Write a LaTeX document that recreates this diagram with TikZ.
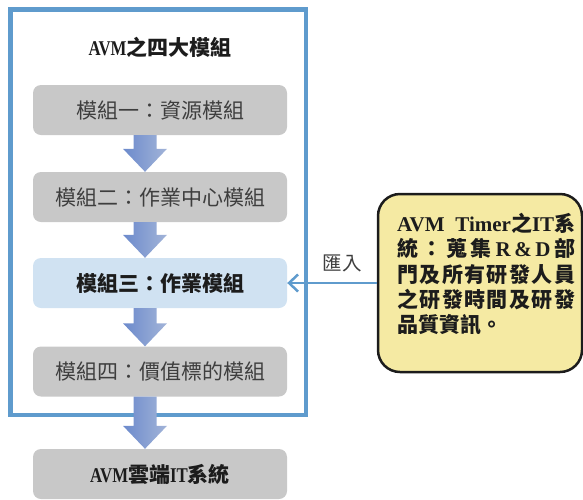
\documentclass[tikz,border=0pt]{standalone}
\usepackage{fontspec}
\setmainfont{Noto Sans CJK TC}
\newfontfamily\lat{Liberation Serif}[FakeStretch=0.8]
\newfontfamily\latw{Liberation Serif}
\usetikzlibrary{arrows.meta,calc}

\definecolor{frameblue}{RGB}{95,155,205}
\definecolor{boxgray}{RGB}{200,200,200}
\definecolor{boxblue}{RGB}{208,226,242}
\definecolor{noteyellow}{RGB}{245,234,163}
\definecolor{arrowleft}{RGB}{108,138,204}
\definecolor{arrowright}{RGB}{162,180,216}
\definecolor{txtgray}{RGB}{62,62,62}
\definecolor{txtdark}{RGB}{28,28,28}

\tikzset{
  module/.style={rounded corners=8pt, minimum width=254pt, minimum height=50pt,
    inner sep=0pt, font=\fontsize{21}{25}\selectfont},
  plainmod/.style={module, fill=boxgray, text=txtgray},
  keymod/.style={module, fill=boxblue, text=txtdark, font=\fontsize{21}{25}\selectfont\bfseries},
  outmod/.style={module, fill=boxgray, text=txtdark, font=\fontsize{21}{25}\selectfont\bfseries},
  frame/.style={draw=frameblue, line width=4.5pt, minimum width=295.5pt, minimum height=405.5pt, inner sep=0pt},
  note/.style={draw=txtdark, fill=noteyellow, line width=2.5pt, rounded corners=22pt,
    minimum width=204pt, minimum height=178pt, inner sep=0pt},
  feed/.style={draw=frameblue, line width=2.5pt, -{Straight Barb[length=9pt,width=17pt]}},
}

% block arrow between two stacked modules, centred on x = 145pt
\newcommand\flowarrow[2]{%
  \shade[left color=arrowleft, right color=arrowright]
    let \p1=(#1.south), \p2=(#2.north) in
    (133.5pt,\y1) -- (156.5pt,\y1) -- (156.5pt,\y2+23pt) -- (167pt,\y2+23pt)
    -- (145pt,\y2) -- (123pt,\y2+23pt) -- (133.5pt,\y2+23pt) -- cycle;}

% one fully justified line of the note: spaces have no width of their own
\newcommand\jline[1]{\makebox[178pt][s]{\spaceskip=0pt plus 1fil\relax #1}}

\begin{document}
\begin{tikzpicture}[x=1pt,y=-1pt]
\useasboundingbox (0,0) rectangle (583,499);

\node[frame] (frame) at (158.25,212.25) {};
\node[font=\fontsize{21}{25}\selectfont\bfseries, text=txtdark] (title) at (160,47)
  {{\lat AVM}之四大模組};

\node[plainmod] (m1) at (160,110) {模組一：資源模組};
\node[plainmod] (m2) at (160,197) {模組二：作業中心模組};
\node[keymod]   (m3) at (160,283) {模組三：作業模組};
\node[plainmod] (m4) at (160,371.5) {模組四：價值標的模組};
\node[outmod]   (m5) at (160,474) {{\lat AVM}雲端{\lat IT}系統};

\flowarrow{m1}{m2}
\flowarrow{m2}{m3}
\flowarrow{m3}{m4}
\flowarrow{m4}{m5}

\node[note] (src) at (480,283) {};
\node[anchor=north west, inner sep=0pt, text=txtdark, align=left,
      font=\fontsize{21}{25.3}\selectfont\bfseries] (srctext) at (397,213)
  {\jline{{\latw AVM} {\latw Timer}之{\latw IT}系}\\
   \jline{統 ： 蒐 集 {\latw R} {\latw\&} {\latw D} 部}\\
   \jline{門 及 所 有 研 發 人 員}\\
   \jline{之 研 發 時 間 及 研 發}\\
   品質資訊。};

\draw[feed] (src.west) -- (m3.east);
\node[text=txtgray, font=\fontsize{19.5}{22}\selectfont] (feedlabel) at (342,263) {匯入};
\end{tikzpicture}
\end{document}
